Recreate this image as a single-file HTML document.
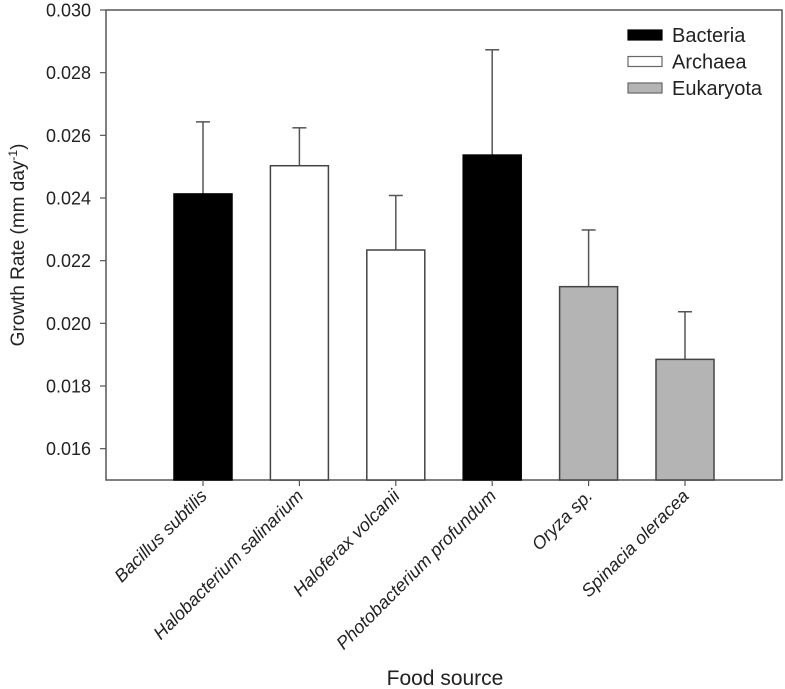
<!DOCTYPE html>
<html><head><meta charset="utf-8"><style>
html,body{margin:0;padding:0;background:#fff;}
svg{display:block;font-family:"Liberation Sans",Arial,sans-serif;}
</style></head><body>
<svg id="chart" width="785" height="689" viewBox="0 0 785 689"></svg>
<script>
const categories = ["Bacillus subtilis","Halobacterium salinarium","Haloferax volcanii","Photobacterium profundum","Oryza sp.","Spinacia oleracea"];
const groups = ["Bacteria","Archaea","Archaea","Bacteria","Eukaryota","Eukaryota"];
const values = [0.02413,0.02503,0.02234,0.02537,0.02117,0.01885];
const errors = [0.0023,0.00121,0.00174,0.00336,0.00181,0.00152];
const yTicks = [0.016,0.018,0.020,0.022,0.024,0.026,0.028,0.030];
const legendLabels = ["Bacteria","Archaea","Eukaryota"];

const NS="http://www.w3.org/2000/svg";
const svg=document.getElementById('chart');
const L=106,R=782,T=10,B=480,yMin=0.015,yMax=0.030;
const fills={Bacteria:"#000",Archaea:"#fff",Eukaryota:"#b4b4b4"};
function y(v){return B-(v-yMin)/(yMax-yMin)*(B-T);}
function x(i){return 203+i*96.4;}
function mk(tag,attrs,parent){const e=document.createElementNS(NS,tag);for(const k in attrs)e.setAttribute(k,attrs[k]);(parent||svg).appendChild(e);return e;}

const frame=mk('rect',{x:L,y:T,width:R-L,height:B-T,fill:'none',stroke:'#555','stroke-width':1.5});



yTicks.forEach(t=>{
  const tk=mk('line',{x1:L-6,x2:L,y1:y(t),y2:y(t),stroke:'#555','stroke-width':1.2});
  
  
  const lb=mk('text',{x:L-15,y:y(t)+6.5,'text-anchor':'end','font-size':18,fill:'#222'});
  lb.textContent=t.toFixed(3);
  
  
});

categories.forEach((c,i)=>{
  const cx=x(i),w=58;
  const eb=mk('line',{x1:cx,x2:cx,y1:y(values[i]),y2:y(values[i]+errors[i]),stroke:'#555','stroke-width':1.5});
  
  
  const cap=mk('line',{x1:cx-7,x2:cx+7,y1:y(values[i]+errors[i]),y2:y(values[i]+errors[i]),stroke:'#555','stroke-width':1.5});
  
  
  const bar=mk('rect',{x:cx-w/2,y:y(values[i]),width:w,height:B-y(values[i]),fill:fills[groups[i]],stroke:groups[i]==='Bacteria'?'#000':'#444','stroke-width':1.5});
  
  
  const tk=mk('line',{x1:cx,x2:cx,y1:B,y2:B+6,stroke:'#555','stroke-width':1.2});
  
  
  const ax=cx+5,ay=B+17;
  const lb=mk('text',{x:ax,y:ay,'text-anchor':'end','font-size':18,'font-style':'italic',fill:'#222',transform:`rotate(-45 ${ax} ${ay})`});
  lb.textContent=c;
  
  
});

legendLabels.forEach((g,i)=>{
  const yy=35+i*26.5;
  const sw=mk('rect',{x:628,y:yy-5,width:34,height:10,fill:fills[g],stroke:g==='Bacteria'?'#000':'#666','stroke-width':1.2});
  
  
  const t=mk('text',{x:672,y:yy+7,'font-size':20,fill:'#222'});
  t.textContent=g;
  
  
});

const yt=mk('text',{x:24,y:245,'text-anchor':'middle','font-size':19,fill:'#222',transform:'rotate(-90 24 245)'});
yt.innerHTML='Growth Rate (mm day<tspan dy="-7" font-size="12">-1</tspan><tspan dy="7">)</tspan>';



const xt=mk('text',{x:445,y:685,'text-anchor':'middle','font-size':21,fill:'#222'});
xt.textContent='Food source';


</script>
</body></html>
